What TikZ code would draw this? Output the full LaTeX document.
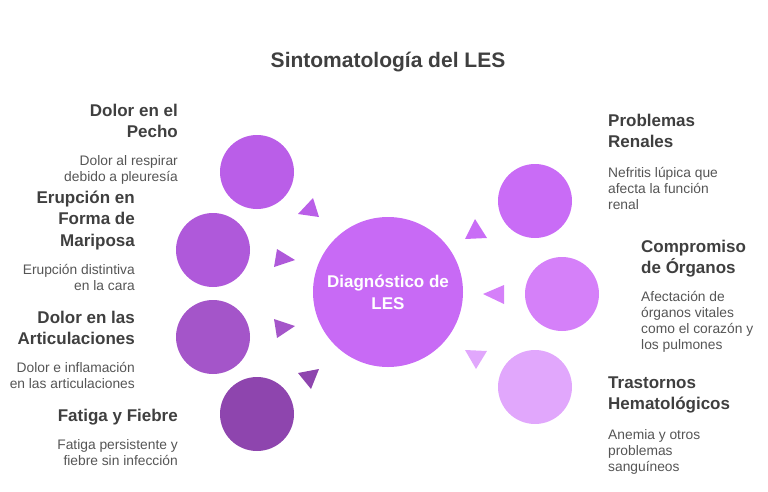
\documentclass[tikz,border=0pt]{standalone}
\usepackage{fontspec}
\setmainfont{Liberation Sans}
\usetikzlibrary{positioning}
\definecolor{headGray}{HTML}{3F3F3F}
\definecolor{descGray}{HTML}{555555}
\definecolor{lesCenter}{HTML}{C86AF5}
\definecolor{lesPecho}{HTML}{BA5EE8}
\definecolor{lesErup}{HTML}{AF59DA}
\definecolor{lesArtic}{HTML}{A455C9}
\definecolor{lesFatiga}{HTML}{8E45AE}
\definecolor{lesRenal}{HTML}{C96CF6}
\definecolor{lesOrgano}{HTML}{D580F9}
\definecolor{lesHemato}{HTML}{E1A7FC}
\newcommand{\hd}{\fontsize{17}{21.5}\selectfont\bfseries}
\newcommand{\ds}{\fontsize{13.8}{16}\selectfont\mdseries\color{descGray}}

\begin{document}
\begin{tikzpicture}[
    x=1pt,y=-1pt,
    blob/.style={circle,inner sep=0pt,minimum size=74pt},
    lblock/.style={inner sep=0pt,text width=180pt,align=flush right,anchor=base east,font=\hd,text=headGray},
    rblock/.style={inner sep=0pt,text width=150pt,align=flush left,anchor=base west,font=\hd,text=headGray}
  ]
  \useasboundingbox (0,0) rectangle (768,491);
  %% title
  \node[font=\fontsize{21}{25}\selectfont\bfseries,text=headGray,anchor=base] (title) at (388,67) {Sintomatología del LES};

  %% circles
  \node[circle,inner sep=0pt,minimum size=150pt,fill=lesCenter,text=white,align=center,
        font=\fontsize{17}{22}\selectfont\bfseries] (cdiag) at (388,292) {Diagnóstico de\\LES};
  \node[blob,fill=lesPecho]  (cpecho)  at (257,172) {};
  \node[blob,fill=lesErup]   (cerup)   at (213,250) {};
  \node[blob,fill=lesArtic]  (cartic)  at (213,337) {};
  \node[blob,fill=lesFatiga] (cfatiga) at (257,414) {};
  \node[blob,fill=lesRenal]  (crenal)  at (535,201) {};
  \node[blob,fill=lesOrgano] (corgano) at (562,294) {};
  \node[blob,fill=lesHemato] (chemato) at (535,387) {};

  %% small pointers
  \foreach \col/\ax/\ay/\bx/\by/\cx/\cy in {
      lesPecho/313/198/298/214/319/217,
      lesErup/277/249/274/267/295/260,
      lesArtic/274/319/277/338/295/326,
      lesFatiga/298/373/319/369/311/389,
      lesRenal/475/219/465/239/487/238,
      lesOrgano/483/294/504/285/504/304,
      lesHemato/465/350/487/351/476/369}{
    \fill[\col] (\ax,\ay) -- (\bx,\by) -- (\cx,\cy) -- cycle;
  }

  %% left texts
  \node[lblock] (tpecho) at (178,116)
    {Dolor en el\\Pecho\par\vspace{12pt}{\ds Dolor al respirar\\debido a pleuresía\par}};
  \node[lblock] (terup) at (135,203)
    {Erupción en\\Forma de\\Mariposa\par\vspace{12pt}{\ds Erupción distintiva\\en la cara\par}};
  \node[lblock] (tartic) at (135,323)
    {Dolor en las\\Articulaciones\par\vspace{12pt}{\ds Dolor e inflamación\\en las articulaciones\par}};
  \node[lblock] (tfatiga) at (178,421)
    {Fatiga y Fiebre\par\vspace{12pt}{\ds Fatiga persistente y\\fiebre sin infección\par}};

  %% right texts
  \node[rblock] (trenal) at (608,126)
    {Problemas\\Renales\par\vspace{14pt}{\ds Nefritis lúpica que\\afecta la función\\renal\par}};
  \node[rblock] (torgano) at (641,252)
    {Compromiso\\de Órganos\par\vspace{12pt}{\ds Afectación de\\órganos vitales\\como el corazón y\\los pulmones\par}};
  \node[rblock] (themato) at (608,388)
    {Trastornos\\Hematológicos\par\vspace{14pt}{\ds Anemia y otros\\problemas\\sanguíneos\par}};
\end{tikzpicture}
\end{document}
